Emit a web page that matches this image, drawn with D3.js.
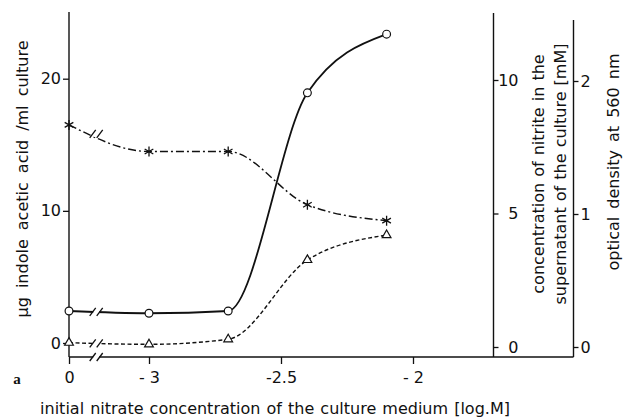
<!DOCTYPE html>
<html><head><meta charset="utf-8">
<script src="https://cdn.jsdelivr.net/npm/d3@7"></script>
<style>
body{margin:0;background:#fff}
svg text{font-family:"DejaVu Sans",sans-serif;fill:#111}
</style>
</head><body>
<svg id="c" width="636" height="418"></svg>
<script>
// ---- data ----
const xTickValues = [-3.303, -3, -2.5, -2];
const xTickLabels = ["0", "- 3", "-2.5", "- 2"];
const xPoints = [-3.303, -3, -2.7, -2.4, -2.1]; // first point = nitrate 0 (drawn at axis break)
const iaaValues = [2.42, 2.25, 2.42, 18.93, 23.37];      // µg IAA / ml (left axis)
const nitriteValues = [0.16, 0.10, 0.29, 3.26, 4.19];    // mM nitrite (middle axis)
const odValues = [1.67, 1.47, 1.47, 1.07, 0.95];         // OD 560 nm (right axis)
const leftTicks = [0, 10, 20];
const nitriteTicks = [0, 5, 10];
const odTicks = [0, 1, 2];
const breakX = -3.2;

const svg = d3.select("#c");
const x = d3.scaleLinear().domain([-3, -2]).range([149, 413]);
const yL = d3.scaleLinear().domain([0, 20]).range([343, 78.7]);
const yN = d3.scaleLinear().domain([0, 10]).range([347, 80]);
const yO = d3.scaleLinear().domain([0, 2]).range([347, 81]);
const axisY = 357;
const xL = 69, xN = 493.5, xO = 573.5;

const ink = "#111";

// axis frame lines
const frame = svg.append("g").attr("stroke", ink).attr("stroke-width", 1.4).attr("fill", "none");
frame.append("line").attr("x1", xL).attr("x2", xL).attr("y1", 12).attr("y2", axisY);
frame.append("line").attr("x1", xN).attr("x2", xN).attr("y1", 13).attr("y2", axisY);
frame.append("line").attr("x1", xO).attr("x2", xO).attr("y1", 20).attr("y2", axisY);
frame.append("line").attr("x1", xL).attr("x2", xO).attr("y1", axisY).attr("y2", axisY);

function styleAxis(g) {
  g.select(".domain").remove();
  g.selectAll(".tick line").attr("stroke", ink).attr("stroke-width", 1.3);
  g.selectAll(".tick text").style("font-size", "16px").attr("fill", ink);
}

svg.append("g").attr("transform", `translate(${xL},0)`)
  .call(d3.axisLeft(yL).tickValues(leftTicks).tickFormat(d3.format("d")).tickSize(6).tickPadding(2)).call(styleAxis);
svg.append("g").attr("transform", `translate(${xN},0)`)
  .call(d3.axisRight(yN).tickValues(nitriteTicks).tickFormat(d3.format("d")).tickSize(5).tickPadding(3)).call(styleAxis)
  .selectAll(".tick text").attr("text-anchor", "end").attr("x", 25);
svg.append("g").attr("transform", `translate(${xO},0)`)
  .call(d3.axisRight(yO).tickValues(odTicks).tickFormat(d3.format("d")).tickSize(5).tickPadding(2)).call(styleAxis);
svg.append("g").attr("transform", `translate(0,${axisY})`)
  .call(d3.axisBottom(x).tickValues(xTickValues).tickFormat((d, i) => xTickLabels[i]).tickSize(7).tickPadding(8))
  .call(styleAxis);

// lines
const series = [
  {vals: iaaValues, y: yL, dash: null, w: 1.8, sym: "circle"},
  {vals: nitriteValues, y: yN, dash: "4,2.5", w: 1.4, sym: "triangle"},
  {vals: odValues, y: yO, dash: "8,3,2,3", w: 1.4, sym: "star"}
];
series.forEach(s => {
  const pts = xPoints.map((xv, i) => [x(xv), s.y(s.vals[i])]);
  svg.append("path").attr("d", d3.line().curve(d3.curveMonotoneX)(pts))
    .attr("fill", "none").attr("stroke", ink).attr("stroke-width", s.w)
    .attr("stroke-dasharray", s.dash);
  const t = (breakX - xPoints[0]) / (xPoints[1] - xPoints[0]);
  const by = s.y(s.vals[0] + t * (s.vals[1] - s.vals[0]));
  drawBreak(x(breakX), by);
  pts.forEach(p => {
    if (s.sym === "circle") {
      svg.append("circle").attr("cx", p[0]).attr("cy", p[1]).attr("r", 3.9)
        .attr("fill", "#fff").attr("stroke", ink).attr("stroke-width", 1.2);
    } else if (s.sym === "triangle") {
      svg.append("path").attr("d", d3.symbol(d3.symbolTriangle2, 55)())
        .attr("transform", `translate(${p[0]},${p[1]})`)
        .attr("fill", "#fff").attr("stroke", ink).attr("stroke-width", 1.2);
    } else {
      svg.append("path").attr("d", d3.symbol(d3.symbolAsterisk, 70)())
        .attr("transform", `translate(${p[0]},${p[1]})`)
        .attr("fill", "none").attr("stroke", ink).attr("stroke-width", 1.3);
    }
  });
});
drawBreak(x(breakX), axisY);

function drawBreak(cx, cy) {
  svg.append("rect").attr("x", cx - 3).attr("y", cy - 3).attr("width", 6).attr("height", 6).attr("fill", "#fff");
  [-3.5, 3.5].forEach(dx => {
    svg.append("line").attr("x1", cx + dx - 3).attr("y1", cy + 4).attr("x2", cx + dx + 3).attr("y2", cy - 4)
      .attr("stroke", ink).attr("stroke-width", 1.3);
  });
}

// labels
svg.append("text").attr("transform", "translate(28,179) rotate(-90)").attr("text-anchor", "middle")
  .style("font-size", "16px").style("word-spacing", "4px").text("µg indole acetic acid /ml culture");
svg.append("text").attr("transform", "translate(544,174) rotate(-90)").attr("text-anchor", "middle")
  .style("font-size", "16px").style("word-spacing", "1px").text("concentration of nitrite in the");
svg.append("text").attr("transform", "translate(566,174) rotate(-90)").attr("text-anchor", "middle")
  .style("font-size", "16px").style("word-spacing", "1px").text("supernatant of the culture [mM]");
svg.append("text").attr("transform", "translate(619,162) rotate(-90)").attr("text-anchor", "middle")
  .style("font-size", "16px").style("word-spacing", "3px").text("optical density at 560 nm");
svg.append("text").attr("x", 275).attr("y", 414).attr("text-anchor", "middle")
  .style("font-size", "16px").style("word-spacing", "1px").text("initial nitrate concentration of the culture medium [log.M]");
svg.append("text").attr("x", 17).attr("y", 384).attr("text-anchor", "middle")
  .style("font-family", "'Liberation Serif',serif").style("font-weight", "bold").style("font-size", "15px").text("a");
</script>
</body></html>
